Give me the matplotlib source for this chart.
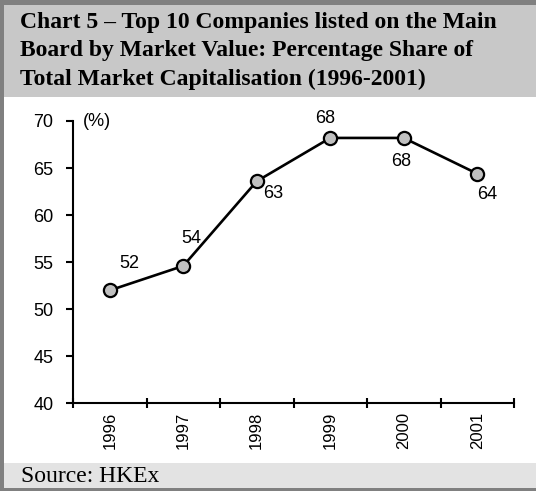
import matplotlib.pyplot as plt
from matplotlib.patches import Rectangle

# data
years = ['1996', '1997', '1998', '1999', '2000', '2001']
share = [52.0, 54.6, 63.6, 68.2, 68.2, 64.4]
labels = ['52', '54', '63', '68', '68', '64']
# label offsets in points (dx, dy)
offsets = [(14, 19), (6, 20), (12, -9), (-4, 14), (-2, -17), (7, -15)]

W, H = 536, 491
fig = plt.figure(figsize=(W / 100, H / 100), dpi=100)

# frame, title band, source band
fig.patches.append(Rectangle((0, 0), 1, 1, transform=fig.transFigure,
                             facecolor='#808080', edgecolor='none', zorder=-3))
fig.patches.append(Rectangle((4 / W, 3 / H), 1, (H - 8) / H, transform=fig.transFigure,
                             facecolor='white', edgecolor='none', zorder=-2))
fig.patches.append(Rectangle((4 / W, (H - 97) / H), 1, 92 / H, transform=fig.transFigure,
                             facecolor='#c8c8c8', edgecolor='none', zorder=-1))
fig.patches.append(Rectangle((4 / W, 3 / H), 1, 25 / H, transform=fig.transFigure,
                             facecolor='#e3e3e3', edgecolor='none', zorder=-1))

fig.text(20 / W, (H - 12) / H,
         'Chart 5 \u2013 Top 10 Companies listed on the Main\n'
         'Board by Market Value: Percentage Share of\n'
         'Total Market Capitalisation (1996-2001)',
         family='Liberation Serif', weight='bold', fontsize=17,
         va='top', ha='left', linespacing=1.45)
fig.text(21 / W, 15 / H, 'Source: HKEx', family='Liberation Serif',
         fontsize=17, va='center', ha='left')

ax = fig.add_axes([73 / W, 87.7 / H, 441 / W, 282.3 / H])
ax.patch.set_alpha(0)
x = list(range(len(years)))
ax.plot(x, share, color='black', lw=1.9, marker='o', ms=9.5,
        mfc='#c0c0c0', mec='black', mew=1.6, zorder=3, clip_on=False)
for xi, yi, lab, (dx, dy) in zip(x, share, labels, offsets):
    ax.annotate(lab, (xi, yi), xytext=(dx, dy), textcoords='offset points',
                ha='center', va='center', family='Liberation Sans', fontsize=13)

ax.set_xlim(-0.5, 5.5)
ax.set_ylim(40, 70)
ax.set_yticks(range(40, 71, 5))
ax.set_xticks([i - 0.5 for i in range(7)])
ax.set_xticklabels([])
ax.set_xticks(x, minor=True)
ax.set_xticklabels(years, minor=True, rotation=90)
ax.tick_params(axis='x', which='major', direction='inout', length=7, width=1.5)
ax.tick_params(axis='x', which='minor', length=0, pad=6)
ax.tick_params(axis='y', direction='out', length=5, width=1.5, pad=9)
for t in ax.get_xticklabels(minor=True):
    t.set_family('Liberation Sans')
    t.set_fontsize(12)
for t in ax.get_yticklabels():
    t.set_family('Liberation Sans')
    t.set_fontsize(13)
for s in ['top', 'right']:
    ax.spines[s].set_visible(False)
for s in ['left', 'bottom']:
    ax.spines[s].set_linewidth(1.5)
ax.text(0.022, 1.0, '(%)', transform=ax.transAxes, ha='left', va='center',
        family='Liberation Sans', fontsize=13)

fig.savefig('out.png', dpi=100)
